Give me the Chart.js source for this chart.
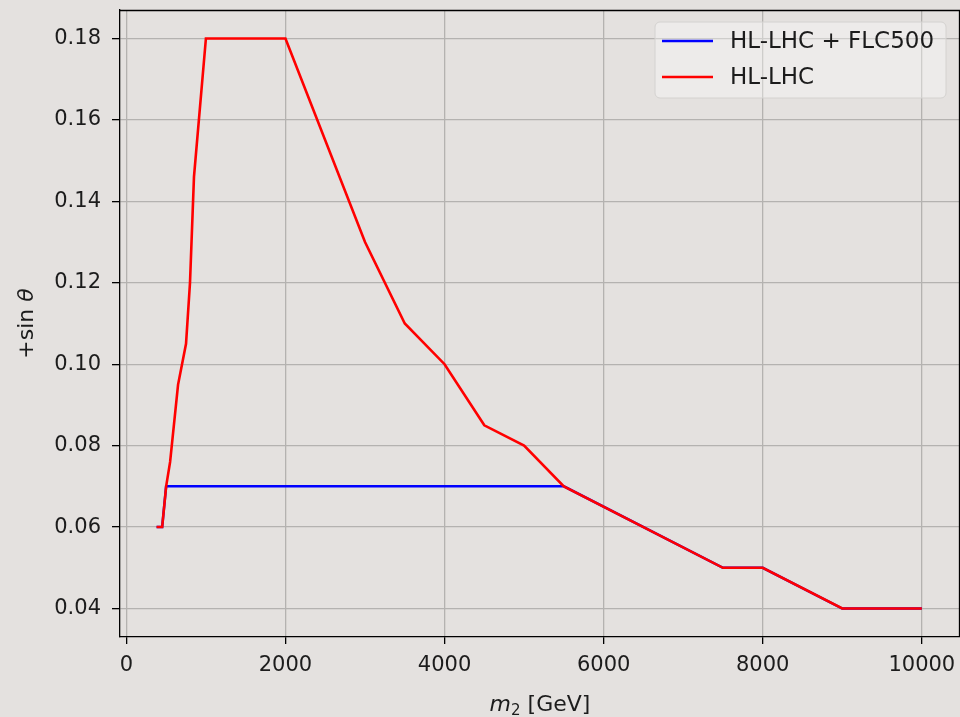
<!DOCTYPE html>
<html>
<head>
<meta charset="utf-8">
<script src="https://cdn.jsdelivr.net/npm/chart.js@4.4.1/dist/chart.umd.min.js"></script>
<style>
  html, body { margin: 0; padding: 0; background: #e4e1df; }
  #wrap { width: 960px; height: 717px; position: relative; }
</style>
</head>
<body>
<div id="wrap"><canvas id="c" width="960" height="717"></canvas></div>
<script>
// ---- data ----
const seriesNames = ['HL-LHC + FLC500', 'HL-LHC'];
const seriesColors = ['#0000ff', '#ff0000'];

const blueM2  = [380, 450, 500, 5500, 7500, 8000, 9000, 10000];
const blueSin = [0.06, 0.06, 0.07, 0.07, 0.05, 0.05, 0.04, 0.04];

const redM2  = [380, 450, 500, 550, 650, 750, 800, 850, 1000, 2000, 3000, 3500, 4000, 4500, 5000, 5500, 7500, 8000, 9000, 10000];
const redSin = [0.06, 0.06, 0.07, 0.076, 0.095, 0.105, 0.12, 0.146, 0.18, 0.18, 0.13, 0.11, 0.10, 0.085, 0.08, 0.07, 0.05, 0.05, 0.04, 0.04];

const xTicks = [0, 2000, 4000, 6000, 8000, 10000];
const yTicks = [0.04, 0.06, 0.08, 0.10, 0.12, 0.14, 0.16, 0.18];

const xRange = [-80, 10480];
const yRange = [0.033, 0.187];

const FONT = 'DejaVu Sans';
const TEXT = '#1c1c1c';

function toPoints(xs, ys) { return xs.map((x, i) => ({ x: x, y: ys[i] })); }

const bgPlugin = {
  id: 'bg',
  beforeDraw(chart) {
    const ctx = chart.ctx;
    ctx.save();
    ctx.fillStyle = '#e4e1df';
    ctx.fillRect(0, 0, chart.width, chart.height);
    ctx.restore();
  }
};

const decorPlugin = {
  id: 'decor',
  afterDraw(chart) {
    const ctx = chart.ctx;
    const a = chart.chartArea;
    ctx.save();
    // top & right spines
    ctx.strokeStyle = '#000';
    ctx.lineWidth = 1.3;
    ctx.beginPath();
    ctx.moveTo(a.left, a.top + 0.5);
    ctx.lineTo(a.right, a.top + 0.5);
    ctx.moveTo(a.right - 0.5, a.top);
    ctx.lineTo(a.right - 0.5, a.bottom);
    ctx.stroke();

    // legend
    const lx = 655, ly = 22, lw = 291, lh = 76, r = 5;
    ctx.fillStyle = 'rgba(255,255,255,0.35)';
    ctx.strokeStyle = '#d4d2d0';
    ctx.lineWidth = 1;
    ctx.beginPath();
    ctx.moveTo(lx + r, ly);
    ctx.arcTo(lx + lw, ly, lx + lw, ly + lh, r);
    ctx.arcTo(lx + lw, ly + lh, lx, ly + lh, r);
    ctx.arcTo(lx, ly + lh, lx, ly, r);
    ctx.arcTo(lx, ly, lx + lw, ly, r);
    ctx.closePath();
    ctx.fill();
    ctx.stroke();
    ctx.font = '23px "' + FONT + '"';
    ctx.textBaseline = 'middle';
    ctx.textAlign = 'left';
    chart.data.datasets.forEach((ds, i) => {
      const yy = 41 + i * 36;
      ctx.strokeStyle = ds.borderColor;
      ctx.lineWidth = 2.6;
      ctx.beginPath();
      ctx.moveTo(662, yy);
      ctx.lineTo(713, yy);
      ctx.stroke();
      ctx.fillStyle = TEXT;
      ctx.fillText(ds.label, 730, yy + 1);
    });

    // x title: m_2 [GeV]
    const cx = (a.left + a.right) / 2;
    const by = 711;
    ctx.fillStyle = TEXT;
    ctx.textBaseline = 'alphabetic';
    const fMain = '22px "' + FONT + '"';
    const fIt = 'italic 22px "' + FONT + '"';
    const fSub = '15px "' + FONT + '"';
    ctx.font = fIt; const w1 = ctx.measureText('m').width;
    ctx.font = fSub; const w2 = ctx.measureText('2').width;
    ctx.font = fMain; const w3 = ctx.measureText(' [GeV]').width;
    let sx = cx - (w1 + w2 + w3) / 2;
    ctx.font = fIt; ctx.fillText('m', sx, by); sx += w1;
    ctx.font = fSub; ctx.fillText('2', sx, by + 4); sx += w2;
    ctx.font = fMain; ctx.fillText(' [GeV]', sx, by);

    // y title: +sin θ
    ctx.save();
    ctx.translate(33, (a.top + a.bottom) / 2);
    ctx.rotate(-Math.PI / 2);
    ctx.font = fMain; const v1 = ctx.measureText('+sin ').width;
    ctx.font = fIt; const v2 = ctx.measureText('θ').width;
    let sy = -(v1 + v2) / 2;
    ctx.font = fMain; ctx.fillText('+sin ', sy, 0); sy += v1;
    ctx.font = fIt; ctx.fillText('θ', sy, 0);
    ctx.restore();

    ctx.restore();
  }
};

new Chart(document.getElementById('c'), {
  type: 'line',
  data: {
    datasets: [
      { label: seriesNames[0], data: toPoints(blueM2, blueSin), borderColor: seriesColors[0], borderWidth: 2.5, pointRadius: 0, fill: false, tension: 0, order: 2 },
      { label: seriesNames[1], data: toPoints(redM2, redSin), borderColor: seriesColors[1], borderWidth: 2.6, pointRadius: 0, fill: false, tension: 0, order: 1 }
    ]
  },
  options: {
    responsive: false,
    animation: false,
    devicePixelRatio: 1,
    layout: { padding: { top: 10, right: 0, left: 0, bottom: 0 }, autoPadding: false },
    plugins: { legend: { display: false }, tooltip: { enabled: false } },
    scales: {
      x: {
        type: 'linear',
        min: xRange[0], max: xRange[1],
        afterBuildTicks: s => { s.ticks = xTicks.map(v => ({ value: v })); },
        afterFit: s => { s.height = 80; s.paddingLeft = 0; s.paddingRight = 0; },
        ticks: { font: { family: FONT, size: 21 }, color: TEXT, padding: 9, maxRotation: 0, callback: v => String(v) },
        grid: { color: '#b4b2b0', lineWidth: 1.3, drawTicks: true, tickLength: 7, tickColor: '#000', tickWidth: 1.3 },
        border: { display: true, color: '#000', width: 1.3 }
      },
      y: {
        type: 'linear',
        min: yRange[0], max: yRange[1],
        afterBuildTicks: s => { s.ticks = yTicks.map(v => ({ value: v })); },
        afterFit: s => { s.width = 120; s.paddingTop = 0; s.paddingBottom = 0; },
        ticks: { font: { family: FONT, size: 21 }, color: TEXT, padding: 11, callback: v => Number(v).toFixed(2) },
        grid: { color: '#b4b2b0', lineWidth: 1.3, drawTicks: true, tickLength: 8, tickColor: '#000', tickWidth: 1.3 },
        border: { display: true, color: '#000', width: 1.3 }
      }
    }
  },
  plugins: [bgPlugin, decorPlugin]
});
</script>
</body>
</html>
